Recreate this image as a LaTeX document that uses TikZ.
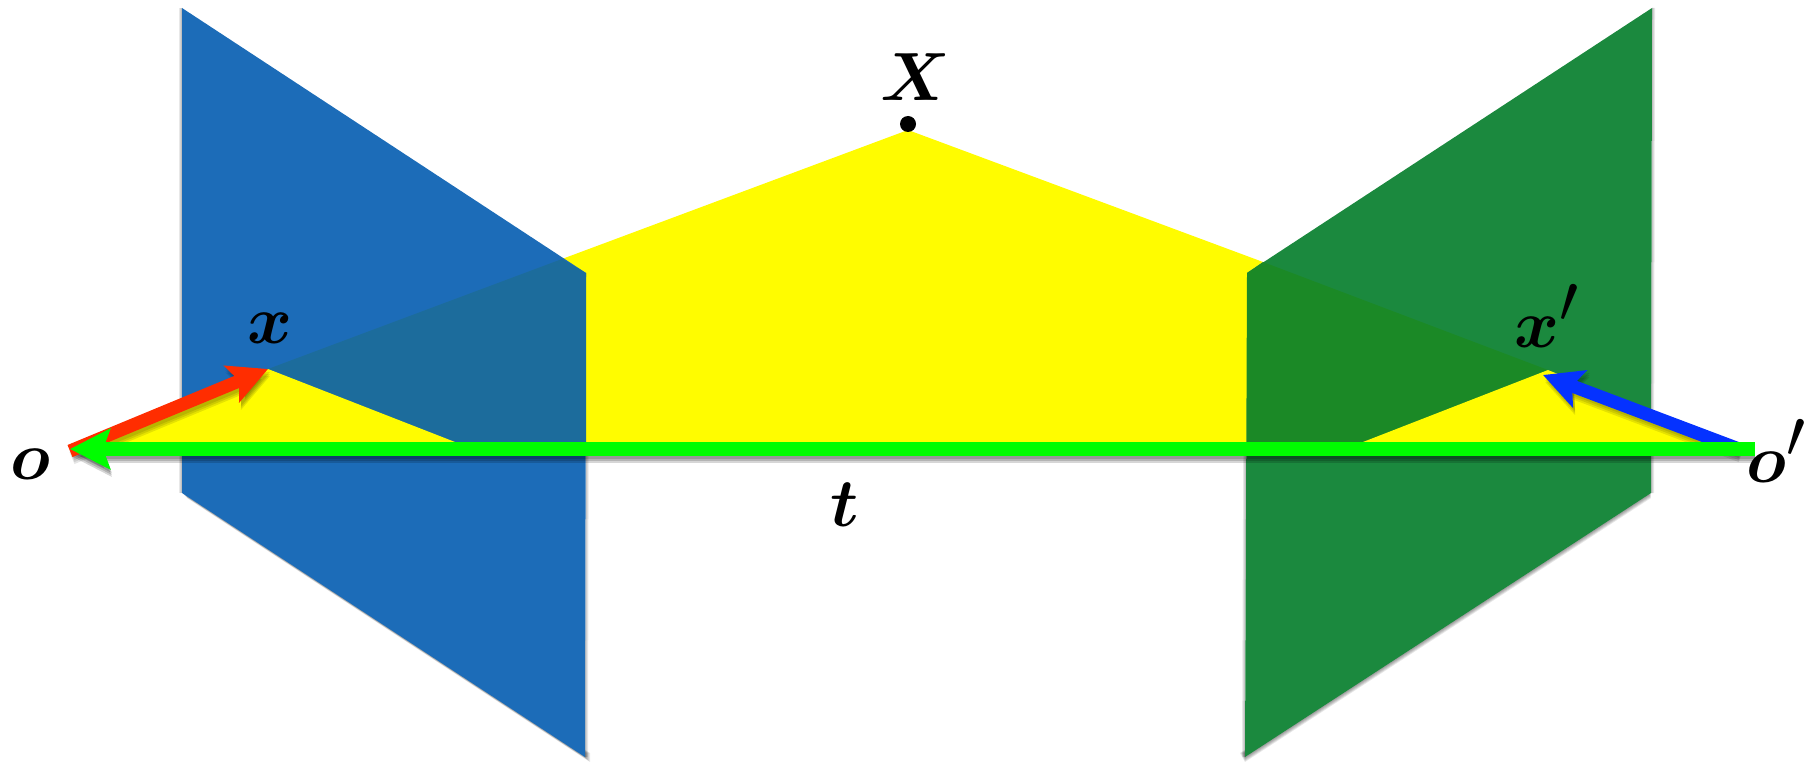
\documentclass[tikz,border=0pt]{standalone}
\usepackage{amsmath,bm}
\usetikzlibrary{arrows.meta,calc}
\definecolor{planeblue}{RGB}{28,108,184}
\definecolor{planegreen}{RGB}{27,137,62}
\definecolor{overblue}{RGB}{28,108,156}
\definecolor{overgreen}{RGB}{27,137,38}
\definecolor{rayyellow}{RGB}{255,252,0}
\definecolor{rayred}{RGB}{255,45,0}
\definecolor{rayblue}{RGB}{5,50,255}
\definecolor{baygreen}{RGB}{0,253,0}
\tikzset{
  softshadow/.style={fill=black,fill opacity=0.09,draw=none},
  plane/.style={draw=none},
  ray/.style={line width=#1,line cap=butt},
  lab/.style={inner sep=0pt},
  tipr/.style={-{Stealth[length=39pt,width=39pt,inset=8pt]}},
  tipg/.style={-{Stealth[length=40pt,width=40pt,inset=7pt]}}
}
\newcommand{\biglab}[1]{\scalebox{1.12}{\fontsize{42}{42}\selectfont\scalebox{2.45}{$#1$}}}
\begin{document}
\begin{tikzpicture}[x=1pt,y=-1pt]
\useasboundingbox (0,0) rectangle (1806,762);
\coordinate (X) at (908,130);
\coordinate (x) at (268,369);
\coordinate (xa) at (1548,370);
\coordinate (xp) at (1543,375);
\coordinate (o) at (70,451);
\coordinate (op) at (1755,449);
\coordinate (ol) at (70,449);
\coordinate (bt) at (1739,449);
\coordinate (a1) at (182,8);
\coordinate (a2) at (586,273);
\coordinate (a3) at (585,757);
\coordinate (a4) at (182,493);
\coordinate (ac) at (562,259);
\coordinate (b1) at (1652,8);
\coordinate (b2) at (1247,273);
\coordinate (b3) at (1245,757);
\coordinate (b4) at (1651,493);
\coordinate (bc) at (1263,262);
\coordinate (ym) at (455,442);
\coordinate (yn) at (1363,442);
% plane shadows
\foreach \d in {1,2,3,4,5}{
  \fill[softshadow] ($(a4)+(\d,\d)$) -- ($(a3)+(\d,\d)$) -- ($(a3)+(\d,-4)$) -- ($(a4)+(\d,-4)$) -- cycle;
  \fill[softshadow] ($(b4)+(0,\d)$) -- ($(b3)+(0,\d)$) -- ($(b3)+(-\d,-4)$) -- ($(b4)+(-\d,-4)$) -- cycle;
}
\foreach \d in {1,2,3}{
  \fill[softshadow] ($(a2)+(\d,0)$) -- ($(a3)+(\d,0)$) -- (a3) -- (a2) -- cycle;
  \fill[softshadow] ($(b1)+(\d,0)$) -- ($(b4)+(\d,0)$) -- (b4) -- (b1) -- cycle;
  \fill[softshadow] ($(a1)+(-\d,0)$) -- ($(a4)+(-\d,0)$) -- (a4) -- (a1) -- cycle;
  \fill[softshadow] ($(b2)+(-\d,0)$) -- ($(b3)+(-\d,0)$) -- (b3) -- (b2) -- cycle;
}
% yellow central
\fill[rayyellow] (X) -- (ac) -- (a2) -- (a2|-ym) -- (b2|-yn) -- (b2) -- (bc) -- cycle;
% planes
\fill[plane,planeblue] (a1) -- (a2) -- (a3) -- (a4) -- cycle;
\fill[plane,planegreen] (b1) -- (b2) -- (b3) -- (b4) -- cycle;
% overlaps
\fill[overblue] (x) -- (ym) -- (a2|-ym) -- (a2) -- (ac) -- cycle;
\fill[overgreen] (xa) -- (yn) -- (b2|-yn) -- (b2) -- (bc) -- cycle;
% front yellow
\fill[rayyellow] (x) -- (ym) -- (105,442) -- cycle;
\fill[rayyellow] (xa) -- (yn) -- (1725,442) -- cycle;
% dot
\fill[black] (908,124) circle (8);
% arrow shadows
\foreach \d in {3,5,7}{
\draw[ray=13pt,black,opacity=.1,tipr] ($(o)+(2,\d)$) -- ($(x)+(2,\d)$);
\draw[ray=13pt,black,opacity=.1,tipr] ($(bt)+(2,\d)$) -- ($(xp)+(2,\d)$);
\draw[ray=13.5pt,black,opacity=.16,tipg] ($(op)+(0,\d)$) -- ($(ol)+(1,\d)$);
}
% rays
\draw[ray=13pt,rayred,tipr] (o) -- (x);
\draw[ray=13pt,rayblue,tipr] (bt) -- (xp);
\draw[ray=13.5pt,baygreen,tipg] (op) -- (ol);
% labels
\node[lab] (lx) at (270,328) {\biglab{\bm{x}}};
\node[lab] (lxp) at (1547,316) {\biglab{\bm{x}'}};
\node[lab] (lX) at (915,77) {\biglab{\bm{X}}};
\node[lab] (lo) at (30,464) {\biglab{\bm{o}}};
\node[lab] (lop) at (1777,451) {\biglab{\bm{o}'}};
\node[lab] (lt) at (845,505) {\biglab{\bm{t}}};
\end{tikzpicture}
\end{document}
